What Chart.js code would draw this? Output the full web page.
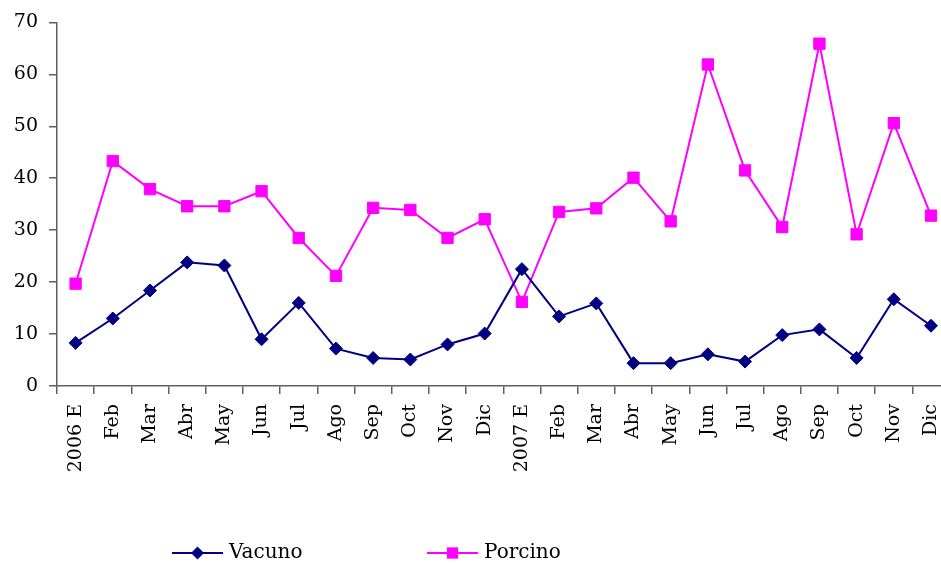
<!DOCTYPE html>
<html>
<head>
<meta charset="utf-8">
<script src="https://cdn.jsdelivr.net/npm/chart.js@4.4.1/dist/chart.umd.min.js"></script>
<style>
  html, body { margin: 0; padding: 0; background: #fff; overflow: hidden; }
  #wrap { width: 941px; height: 565px; overflow: hidden; position: relative; }
  canvas { display: block; }
</style>
</head>
<body>
<div id="wrap"><canvas id="c" width="964" height="565"></canvas></div>
<script>
const categories = ["2006 E","Feb","Mar","Abr","May","Jun","Jul","Ago","Sep","Oct","Nov","Dic",
                    "2007 E","Feb","Mar","Abr","May","Jun","Jul","Ago","Sep","Oct","Nov","Dic"];
const vacuno = [8.3,13.0,18.4,23.8,23.2,9.0,16.0,7.2,5.4,5.1,8.0,10.1,
                22.5,13.4,15.9,4.4,4.4,6.1,4.7,9.8,10.9,5.4,16.7,11.6];
const porcino = [19.7,43.3,37.9,34.6,34.6,37.5,28.5,21.2,34.3,33.9,28.5,32.1,
                 16.2,33.5,34.2,40.1,31.7,61.9,41.5,30.6,65.9,29.2,50.6,32.8];
const seriesNames = ["Vacuno","Porcino"];
const yTicks = [0,10,20,30,40,50,60,70];

const FONT = "'DejaVu Serif', 'Liberation Serif', serif";

const legendPlugin = {
  id: 'customLegend',
  afterDraw(chart) {
    const ctx = chart.ctx;
    const items = [
      {x: 172, ds: chart.data.datasets[0]},
      {x: 427, ds: chart.data.datasets[1]}
    ];
    const y = 553;
    ctx.save();
    items.forEach(it => {
      const ds = it.ds;
      ctx.strokeStyle = ds.borderColor;
      ctx.lineWidth = 2;
      ctx.beginPath();
      ctx.moveTo(it.x, y);
      ctx.lineTo(it.x + 51, y);
      ctx.stroke();
      ctx.fillStyle = ds.pointBackgroundColor;
      ctx.beginPath();
      const cx = it.x + 25.5;
      if (ds.pointStyle === 'rectRot') {
        const r = ds.pointRadius;
        ctx.moveTo(cx, y - r);
        ctx.lineTo(cx + r, y);
        ctx.lineTo(cx, y + r);
        ctx.lineTo(cx - r, y);
      } else {
        const s = ds.pointRadius * Math.SQRT1_2;
        ctx.rect(cx - s, y - s, 2 * s, 2 * s);
      }
      ctx.closePath();
      ctx.fill();
      ctx.fillStyle = '#000';
      ctx.font = "20px " + FONT;
      ctx.textBaseline = 'middle';
      ctx.textAlign = 'left';
      ctx.fillText(ds.label, it.x + 57, y);
    });
    ctx.restore();
  }
};

new Chart(document.getElementById('c'), {
  type: 'line',
  data: {
    labels: categories,
    datasets: [
      {
        label: seriesNames[0],
        data: vacuno,
        borderColor: '#000080',
        backgroundColor: '#000080',
        pointBackgroundColor: '#000080',
        pointBorderColor: '#000080',
        pointStyle: 'rectRot',
        pointRadius: 6.5,
        pointBorderWidth: 1,
        borderWidth: 2,
        tension: 0
      },
      {
        label: seriesNames[1],
        data: porcino,
        borderColor: '#FF00FF',
        backgroundColor: '#FF00FF',
        pointBackgroundColor: '#FF00FF',
        pointBorderColor: '#FF00FF',
        pointStyle: 'rect',
        pointRadius: 8,
        pointBorderWidth: 1,
        borderWidth: 2,
        tension: 0
      }
    ]
  },
  options: {
    responsive: false,
    animation: false,
    layout: { padding: { top: 22, right: 0, left: 0, bottom: 0 } },
    plugins: {
      legend: { display: false },
      tooltip: { enabled: false }
    },
    scales: {
      x: {
        type: 'category',
        offset: true,
        grid: {
          offset: true,
          drawOnChartArea: false,
          drawTicks: true,
          tickLength: 8,
          color: '#606060',
          lineWidth: 1.5
        },
        border: { display: true, color: '#606060', width: 1.5 },
        ticks: {
          minRotation: 90,
          maxRotation: 90,
          autoSkip: false,
          padding: 10,
          color: '#000',
          font: { family: FONT, size: 19 }
        },
        afterFit(scale) { scale.height = 179; }
      },
      y: {
        min: 0,
        max: 70,
        afterBuildTicks(scale) { scale.ticks = yTicks.map(v => ({ value: v })); },
        grid: {
          drawOnChartArea: false,
          drawTicks: true,
          tickLength: 8,
          color: '#606060',
          lineWidth: 1.5
        },
        border: { display: true, color: '#606060', width: 1.5 },
        ticks: {
          padding: 11,
          color: '#000',
          font: { family: FONT, size: 19 }
        },
        afterFit(scale) { scale.width = 57; }
      }
    }
  },
  plugins: [legendPlugin]
});
</script>
</body>
</html>
